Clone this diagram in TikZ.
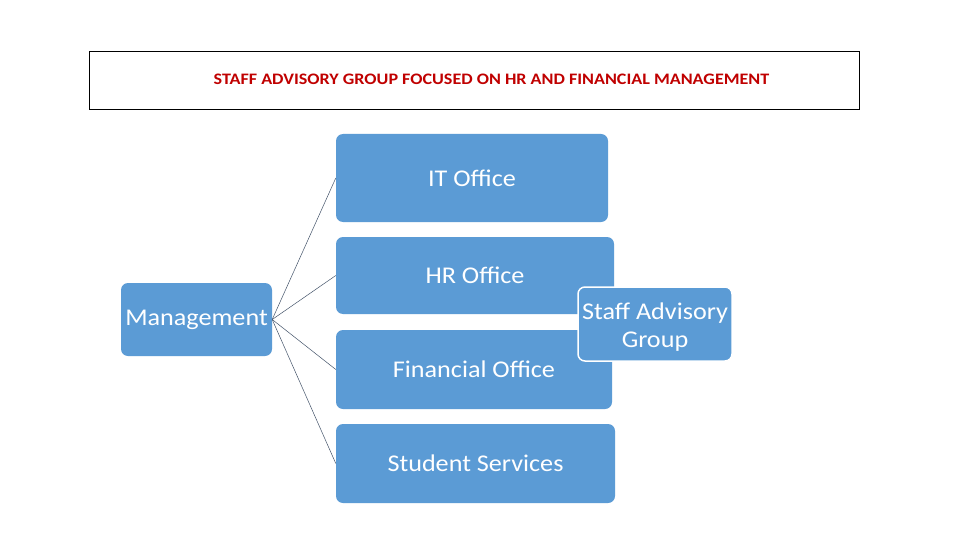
\documentclass[tikz,border=0pt]{standalone}
\usepackage{graphicx}
\usepackage{fontspec}
\setmainfont{Carlito}
\newcommand{\widetext}[1]{\scalebox{1.09}[1]{#1}}
\definecolor{boxblue}{HTML}{5B9BD5}
\definecolor{titlered}{HTML}{C00000}
\definecolor{linegray}{HTML}{44546A}
\begin{document}
\begin{tikzpicture}[x=1pt,y=-1pt,
  orgbox/.style={rectangle, rounded corners=7pt, fill=boxblue, text=white,
    inner sep=0pt, font=\fontsize{24}{28}\selectfont, align=center},
  link/.style={draw=linegray, line width=0.5pt}]
\useasboundingbox (0,0) rectangle (960,540);
\fill[white] (0,0) rectangle (960,540);
\node[draw=black, line width=0.8pt, minimum width=770pt, minimum height=58pt, inner sep=0pt] (title) at (474,80) {};
\node[text=titlered, font=\fontsize{16}{18}\selectfont\bfseries] (titletext) at (491.5,79) {\scalebox{1.13}[1]{STAFF ADVISORY GROUP FOCUSED ON HR AND FINANCIAL MANAGEMENT}};
\node[orgbox, minimum width=272pt, minimum height=88pt] (it) at (472,178) {\widetext{IT Office}};
\node[orgbox, minimum width=278pt, minimum height=77pt] (hr) at (475,275.5) {\widetext{HR Office}};
\node[orgbox, minimum width=276pt, minimum height=79pt] (fin) at (474,369.5) {\widetext{Financial Office}};
\node[orgbox, minimum width=279pt, minimum height=79pt] (stu) at (475.5,463.5) {\widetext{Student Services}};
\node[orgbox, minimum width=151pt, minimum height=73pt] (mgmt) at (196.5,319.5) {\widetext{Management}};
\node[orgbox, draw=white, line width=1.5pt, minimum width=154pt, minimum height=74pt] (staff) at (655,324) {};
\node[text=white, font=\fontsize{24}{28}\selectfont, align=center, inner sep=0pt] (stafftext) at (655,327) {\widetext{Staff Advisory}\\\widetext{Group}};
\draw[link] (mgmt.east) -- (it.west);
\draw[link] (mgmt.east) -- (hr.west);
\draw[link] (mgmt.east) -- (fin.west);
\draw[link] (mgmt.east) -- (stu.west);
\end{tikzpicture}
\end{document}
